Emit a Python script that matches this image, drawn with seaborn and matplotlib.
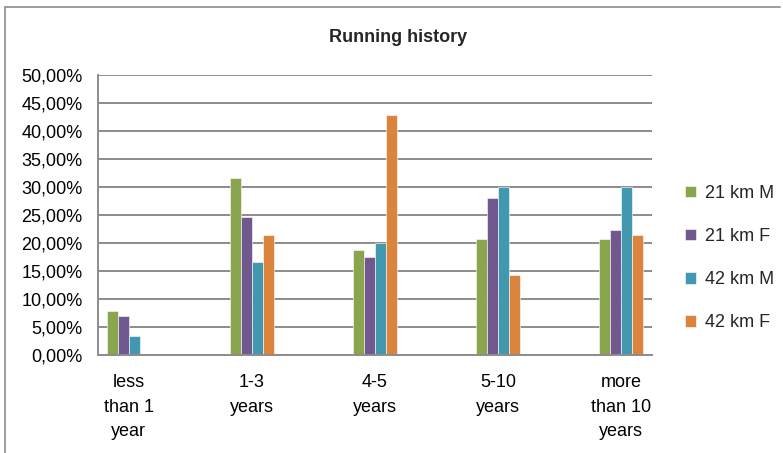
import numpy as np
import pandas as pd
import matplotlib
matplotlib.use("Agg")
import matplotlib.pyplot as plt
import seaborn as sns
from matplotlib.ticker import FuncFormatter
from matplotlib.lines import Line2D

# ---------- DATA ----------
categories = ["less\nthan 1\nyear", "1-3\nyears", "4-5\nyears", "5-10\nyears", "more\nthan 10\nyears"]
series = ["21 km M", "21 km F", "42 km M", "42 km F"]
m21 = [7.8, 31.6, 18.7, 20.8, 20.8]
f21 = [7.02, 24.56, 17.54, 28.07, 22.3]
m42 = [3.33, 16.67, 20.0, 30.0, 30.0]
f42 = [0.0, 21.43, 42.86, 14.29, 21.43]
colors = ["#89A54E", "#71588F", "#4198AF", "#DB843D"]
# --------------------------

sns.set_style("white")
plt.rcParams['font.family'] = ['Liberation Sans', 'DejaVu Sans']

rows = []
for name, vals in zip(series, [m21, f21, m42, f42]):
    for cat, v in zip(categories, vals):
        rows.append({"cat": cat, "series": name, "value": v / 100})
df = pd.DataFrame(rows)

fig = plt.figure(figsize=(7.83, 4.53), dpi=100)
ax = fig.add_axes([98 / 783, 1 - 355 / 453, (652 - 98) / 783, (355 - 75) / 453])

sns.barplot(data=df, x="cat", y="value", hue="series", order=categories,
            hue_order=series, palette=colors, saturation=1, width=0.36, ax=ax,
            edgecolor="white", linewidth=0.4, legend=True)

ax.set_xlim(-0.25, 4.25)
ax.set_ylim(0, 0.5)
ax.set_yticks(np.arange(0, 0.501, 0.05))
ax.yaxis.set_major_formatter(FuncFormatter(lambda v, _: f"{v * 100:.2f}%".replace(".", ",")))
ax.yaxis.grid(True, color="#8c8c8c", linewidth=1.4)
ax.set_axisbelow(True)
for s in ["top", "right"]:
    ax.spines[s].set_visible(False)
for s in ["left", "bottom"]:
    ax.spines[s].set_color("#8c8c8c")
    ax.spines[s].set_linewidth(1.4)
ax.set_xlabel("")
ax.set_ylabel("")
ax.tick_params(axis="both", length=0, labelsize=13, colors="black")
ax.tick_params(axis="y", pad=11)
ax.tick_params(axis="x", pad=14)
for lab in ax.get_xticklabels():
    lab.set_linespacing(1.55)

fig.text(398 / 783, 1 - 38 / 453, "Running history", fontsize=13, fontweight="bold",
         ha="center", va="center")

handles, labels = ax.get_legend_handles_labels()
ax.legend(handles, labels, loc="center left", bbox_to_anchor=(1.03, 0.346),
          frameon=False, fontsize=13, handlelength=0.6, handleheight=0.6,
          handletextpad=0.5, labelspacing=1.45)

# chart area border (top and left visible)
fig.add_artist(Line2D([5 / 783, 780 / 783], [1 - 7 / 453, 1 - 7 / 453], color="#8c8c8c", linewidth=1.2))
fig.add_artist(Line2D([5 / 783, 5 / 783], [0, 1 - 7 / 453], color="#8c8c8c", linewidth=1.2))

fig.savefig("out.png", dpi=100)
